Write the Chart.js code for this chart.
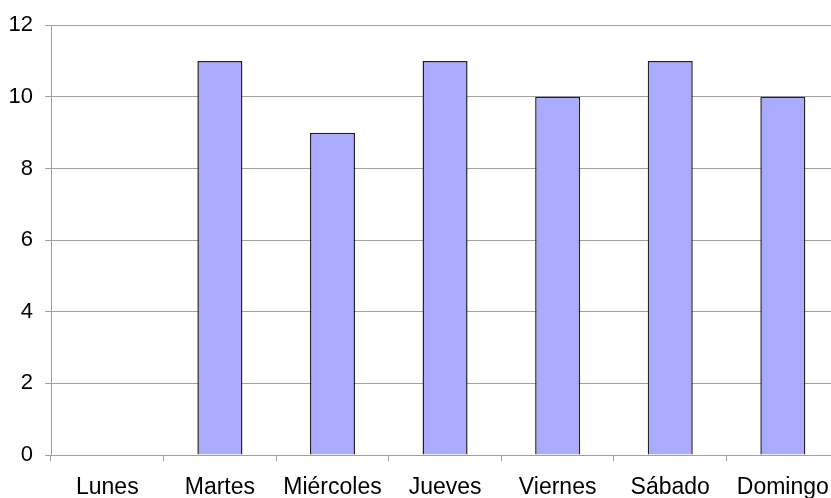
<!DOCTYPE html>
<html>
<head>
<meta charset="utf-8">
<script src="https://cdn.jsdelivr.net/npm/chart.js@4/dist/chart.umd.min.js"></script>
<style>
  html, body { margin: 0; padding: 0; background: #fff; overflow: hidden; width: 831px; height: 498px; }
  #wrap { position: absolute; left: 0; top: 0; width: 842px; height: 498px; }
</style>
</head>
<body>
<div id="wrap"><canvas id="c"></canvas></div>
<script>
const categories = ["Lunes", "Martes", "Miércoles", "Jueves", "Viernes", "Sábado", "Domingo"];
const values = [0, 11, 9, 11, 10, 11, 10];
const yTicks = [0, 2, 4, 6, 8, 10, 12];

new Chart(document.getElementById('c'), {
  type: 'bar',
  data: {
    labels: categories,
    datasets: [{
      data: values,
      backgroundColor: '#AAAAFF',
      borderColor: '#222222',
      borderWidth: 1.5,
      barPercentage: 0.4,
      categoryPercentage: 1.0
    }]
  },
  options: {
    responsive: true,
    maintainAspectRatio: false,
    animation: false,
    layout: { padding: { top: 15, right: 2, left: 0, bottom: 0 } },
    plugins: { legend: { display: false }, tooltip: { enabled: false } },
    scales: {
      x: {
        offset: true,
        grid: { display: true, drawOnChartArea: false, drawTicks: true, tickLength: 6, color: '#a0a0a0', offset: true },
        border: { display: true, color: '#a0a0a0', width: 1 },
        ticks: { color: '#000', font: { family: 'Liberation Sans, Arial, sans-serif', size: 23 }, padding: 13, maxRotation: 0, autoSkip: false },
        afterFit: (s) => { s.height = 43; }
      },
      y: {
        min: 0, max: 12,
        afterBuildTicks: (s) => { s.ticks = yTicks.map(v => ({ value: v })); },
        grid: { color: '#a0a0a0', tickLength: 6, lineWidth: 1 },
        border: { display: true, color: '#a0a0a0', width: 1 },
        ticks: { color: '#000', font: { family: 'Liberation Sans, Arial, sans-serif', size: 22 }, padding: 12 },
        afterFit: (s) => { s.width = 51; }
      }
    }
  }
});
</script>
</body>
</html>
